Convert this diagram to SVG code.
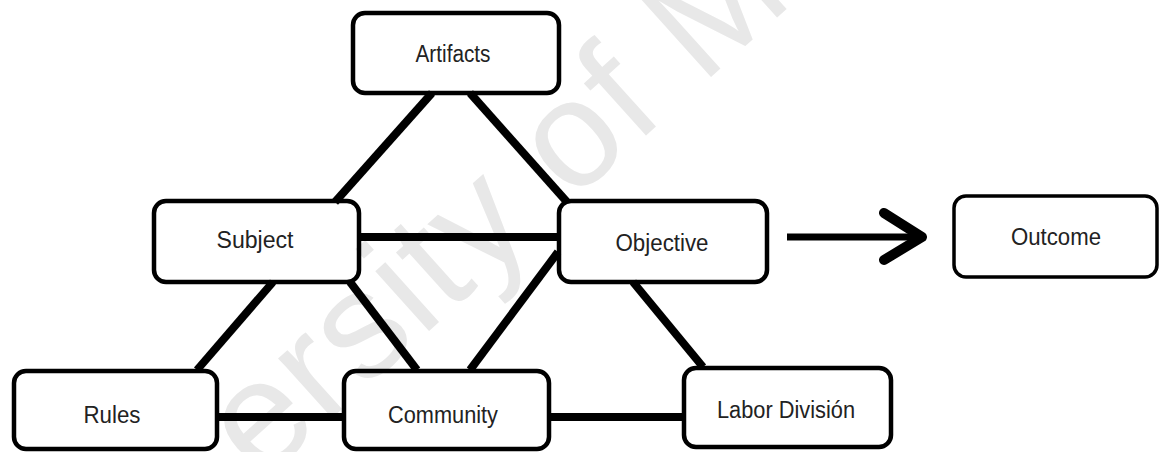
<svg xmlns="http://www.w3.org/2000/svg" width="1162" height="452" viewBox="0 0 1162 452">
  <style>
    .box { fill: none; stroke: #000; stroke-width: 4.5; }
    .box-thin { fill: none; stroke: #000; stroke-width: 3.5; }
    .label { font-family: "Liberation Sans", Arial, sans-serif; font-size: 23px; fill: #222; text-anchor: middle; }
    .link { stroke: #000; stroke-width: 8; fill: none; }
    .mark { font-family: "Liberation Sans", Arial, sans-serif; font-size: 152px; fill: #e8e8e8; letter-spacing: 2px; }
  </style>

  <rect width="1162" height="452" fill="#fff"/>

  <!-- background watermark -->
  <text class="mark" transform="translate(260,483) rotate(-42)">ersity of M</text>

  <!-- connectors -->
  <g id="connectors">
    <line class="link" x1="432" y1="93" x2="335" y2="202"/>
    <line class="link" x1="470" y1="93" x2="567" y2="202"/>
    <line class="link" x1="360" y1="237" x2="558" y2="237"/>
    <line class="link" x1="273" y1="282" x2="197" y2="370"/>
    <line class="link" x1="350" y1="282" x2="417" y2="370"/>
    <line class="link" x1="558" y1="252" x2="470" y2="370"/>
    <line class="link" x1="633" y1="282" x2="703" y2="367"/>
    <line class="link" x1="218" y1="417" x2="343" y2="417"/>
    <line class="link" x1="550" y1="417" x2="683" y2="417"/>
    <line stroke="#000" stroke-width="7" x1="787" y1="237" x2="915" y2="237"/>
    <polyline points="884,213 922,237 884,260" fill="none" stroke="#000" stroke-width="10" stroke-linecap="round" stroke-linejoin="round"/>
  </g>

  <g id="artifacts">
    <rect class="box" x="353" y="13" width="206" height="80" rx="12"/>
    <text class="label" x="453" y="62" textLength="75" lengthAdjust="spacingAndGlyphs">Artifacts</text>
  </g>
  <g id="subject">
    <rect class="box" x="154" y="201" width="205" height="81" rx="12"/>
    <text class="label" x="255" y="248" textLength="77" lengthAdjust="spacingAndGlyphs">Subject</text>
  </g>
  <g id="objective">
    <rect class="box" x="559" y="201" width="208" height="81" rx="12"/>
    <text class="label" x="662" y="251" textLength="93" lengthAdjust="spacingAndGlyphs">Objective</text>
  </g>
  <g id="outcome">
    <rect class="box-thin" x="954" y="196" width="203" height="81" rx="12"/>
    <text class="label" x="1056" y="245" textLength="90" lengthAdjust="spacingAndGlyphs">Outcome</text>
  </g>
  <g id="rules">
    <rect class="box" x="14" y="371" width="203" height="78" rx="12"/>
    <text class="label" x="112" y="423" textLength="57" lengthAdjust="spacingAndGlyphs">Rules</text>
  </g>
  <g id="community">
    <rect class="box" x="344" y="371" width="205" height="78" rx="12"/>
    <text class="label" x="443" y="423" textLength="110" lengthAdjust="spacingAndGlyphs">Community</text>
  </g>
  <g id="labor-division">
    <rect class="box" x="684" y="368" width="207" height="79" rx="12"/>
    <text class="label" x="786" y="418" textLength="138" lengthAdjust="spacingAndGlyphs">Labor División</text>
  </g>
</svg>
